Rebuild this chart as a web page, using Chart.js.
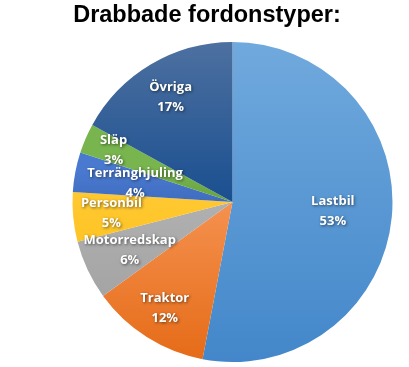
<!DOCTYPE html>
<html>
<head>
<meta charset="utf-8">
<script src="https://cdn.jsdelivr.net/npm/chart.js@4/dist/chart.umd.min.js"></script>
<style>
  html, body { margin: 0; padding: 0; background: #fff; }
  #wrap { position: relative; width: 409px; height: 367px; }
  #title {
    position: absolute; left: 0; top: 1px; width: 414px; text-align: center;
    font: bold 23.5px "Liberation Sans", Arial, sans-serif; color: #000;
  }
  canvas { position: absolute; left: 0; top: 0; }
</style>
</head>
<body>
<div id="wrap">
  <canvas id="pie" width="409" height="367"></canvas>
  <div id="title">Drabbade fordonstyper:</div>
</div>
<script>
const categories = ["Lastbil", "Traktor", "Motorredskap", "Personbil", "Terränghjuling", "Släp", "Övriga"];
const shares = [53, 12, 6, 5, 4, 3, 17];

// slice gradients: colour at start / end, and where (share of pie height) they sit
const colorsTop = ["#70a9dd", "#f5914f", "#b0b0b0", "#ffc830", "#4a7ad0", "#78b54e", "#4d70a0"];
const colorsBottom = ["#4387ca", "#e56b17", "#9c9c9c", "#f7b900", "#3f6cbf", "#66a23f", "#1a4f90"];
const gradFrom = [0, 0.5, 0.5, 0.5, 0.4, 0.4, 0];
const gradTo = [1, 1, 1, 1, 0.5, 0.5, 0.5];

// how far out (share of radius) each label sits
const labelRadius = [0.63, 0.79, 0.71, 0.76, 0.62, 0.81, 0.76];

function sliceFill(ctx) {
  const i = ctx.dataIndex;
  const area = ctx.chart.chartArea;
  if (!area) return colorsBottom[i];
  const h = area.bottom - area.top;
  const g = ctx.chart.ctx.createLinearGradient(0, area.top + h * gradFrom[i], 0, area.top + h * gradTo[i]);
  g.addColorStop(0, colorsTop[i]);
  g.addColorStop(1, colorsBottom[i]);
  return g;
}

const sliceLabels = {
  id: "sliceLabels",
  afterDatasetsDraw(chart) {
    const ctx = chart.ctx;
    const meta = chart.getDatasetMeta(0);
    ctx.save();
    ctx.font = "bold 13px 'Open Sans', sans-serif";
    ctx.fillStyle = "#fff";
    ctx.textAlign = "center";
    ctx.textBaseline = "middle";
    ctx.shadowColor = "rgba(0,0,0,0.55)";
    ctx.shadowBlur = 3;
    ctx.shadowOffsetX = 1;
    ctx.shadowOffsetY = 1;
    meta.data.forEach((arc, i) => {
      const p = arc.getProps(["x", "y", "startAngle", "endAngle", "outerRadius"], true);
      const mid = (p.startAngle + p.endAngle) / 2;
      const r = p.outerRadius * labelRadius[i];
      const x = p.x + Math.cos(mid) * r;
      const y = p.y + Math.sin(mid) * r;
      ctx.fillText(categories[i], x, y - 10);
      ctx.fillText(shares[i] + "%", x, y + 10);
    });
    ctx.restore();
  }
};

new Chart(document.getElementById("pie"), {
  type: "pie",
  data: {
    labels: categories,
    datasets: [{
      data: shares,
      backgroundColor: sliceFill,
      borderWidth: 0
    }]
  },
  options: {
    responsive: false,
    animation: false,
    layout: { padding: { top: 42, bottom: 5, left: 56, right: 0 } },
    plugins: {
      legend: { display: false },
      tooltip: { enabled: false },
      title: { display: false }
    }
  },
  plugins: [sliceLabels]
});
</script>
</body>
</html>
